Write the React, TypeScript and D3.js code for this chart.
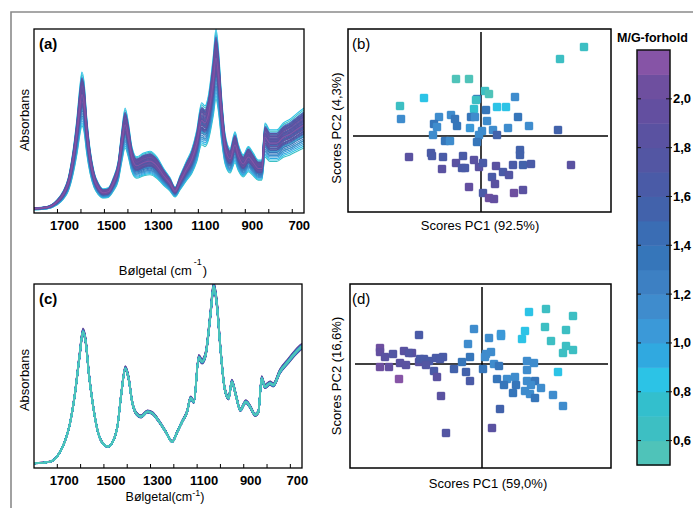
import React from "react";
import * as d3 from "d3";

const W = 693;
const H = 508;
const FONT = "'Liberation Sans', Arial, Helvetica, sans-serif";

// mean spectrum, panel (a) (raw spectra)
const waveA = [1800, 1746, 1703, 1675, 1654, 1633, 1616, 1604, 1596, 1587, 1576, 1561, 1544, 1526, 1505, 1484, 1462, 1441, 1426, 1412, 1398, 1384, 1363, 1334, 1306, 1277, 1249, 1221, 1199, 1178, 1150, 1128, 1107, 1086, 1072, 1058, 1036, 1025, 1015, 1001, 986, 965, 944, 930, 909, 887, 866, 845, 830, 816, 795, 766, 738, 710, 681, 650];
const absA = [0.025, 0.031, 0.062, 0.107, 0.17, 0.306, 0.469, 0.614, 0.678, 0.632, 0.469, 0.306, 0.197, 0.143, 0.116, 0.121, 0.17, 0.252, 0.397, 0.505, 0.433, 0.324, 0.27, 0.288, 0.297, 0.27, 0.216, 0.17, 0.125, 0.179, 0.252, 0.306, 0.397, 0.53, 0.515, 0.56, 0.759, 0.886, 0.795, 0.56, 0.379, 0.31, 0.39, 0.33, 0.28, 0.32, 0.288, 0.255, 0.255, 0.433, 0.4, 0.4, 0.433, 0.451, 0.478, 0.505];

// mean spectrum, panel (c) (normalised spectra)
const waveC = [1800, 1732, 1696, 1668, 1647, 1625, 1604, 1590, 1578, 1564, 1547, 1526, 1505, 1483, 1462, 1441, 1426, 1408, 1394, 1379, 1362, 1341, 1313, 1292, 1263, 1235, 1207, 1185, 1164, 1143, 1128, 1114, 1093, 1079, 1064, 1043, 1029, 1015, 1000, 982, 965, 951, 934, 915, 891, 873, 851, 837, 823, 809, 787, 773, 745, 710, 681, 660, 650];
const absC = [0.025, 0.034, 0.071, 0.143, 0.234, 0.397, 0.614, 0.741, 0.686, 0.505, 0.342, 0.197, 0.134, 0.116, 0.143, 0.234, 0.397, 0.541, 0.487, 0.36, 0.297, 0.279, 0.306, 0.297, 0.252, 0.197, 0.143, 0.197, 0.252, 0.306, 0.38, 0.36, 0.6, 0.578, 0.614, 0.832, 0.986, 0.886, 0.65, 0.433, 0.379, 0.469, 0.397, 0.315, 0.36, 0.333, 0.288, 0.306, 0.487, 0.442, 0.46, 0.451, 0.523, 0.578, 0.623, 0.65, 0.66];

// samples: M/G ratio and intensity factor of each spectrum
const sampleMG = [2.12, 2.05, 2.02, 1.96, 1.92, 1.88, 1.86, 1.83, 1.8, 1.78, 1.75, 1.72, 1.7, 1.68, 1.65, 1.63, 1.6, 1.58, 1.55, 1.52, 1.5, 1.47, 1.44, 1.42, 1.38, 1.35, 1.32, 1.3, 1.26, 1.23, 1.2, 1.16, 1.12, 1.08, 1.05, 1.02, 0.96, 0.92, 0.88, 0.85, 0.82, 0.78, 0.74, 0.7, 0.66, 0.62, 0.58, 0.54];
const scaleA = [0.95, 1.02, 0.9, 1.05, 0.98, 0.88, 1.08, 0.93, 1.0, 0.86, 1.04, 0.96, 0.91, 1.06, 0.99, 0.87, 1.03, 0.94, 0.9, 1.07, 0.97, 0.85, 1.01, 0.92, 0.82, 0.96, 1.04, 0.88, 0.8, 0.95, 0.78, 1.0, 0.84, 0.92, 0.76, 1.09, 0.88, 0.74, 1.13, 0.98, 0.72, 1.06, 0.9, 0.7, 1.11, 0.83, 0.94, 0.78];
const scaleC = [1.02, 0.99, 1.025, 0.985, 1.015, 0.98, 1.01, 1.02, 0.99, 1.0, 1.015, 0.985, 1.005, 1.0, 0.99, 1.01, 1.0, 0.995, 1.005, 1.0, 0.99, 1.01, 1.0, 0.995, 1.005, 1.0, 0.99, 1.0, 1.005, 0.995, 1.0, 1.0, 0.995, 1.005, 1.0, 0.995, 1.0, 1.005, 1.0, 0.995, 1.0, 1.0, 1.0, 1.005, 0.995, 1.0, 1.0, 1.0];

// PCA scores (b)
const pcB1 = [1.03, 0.79, -0.25, -0.12, 0.04, 0.08, -0.57, -0.81, -0.04, -0.05, -0.07, 0.05, 0.16, 0.25, 0.34, -0.8, -0.42, -0.3, -0.26, -0.1, -0.06, 0.06, 0.37, -0.47, -0.44, -0.24, -0.11, 0.01, 0.12, 0.27, 0.48, 0.77, -0.48, -0.36, -0.31, -0.02, -0.04, 0.16, -0.72, -0.5, -0.49, -0.38, -0.18, -0.25, -0.39, -0.19, -0.16, -0.07, -0.02, 0.02, 0.15, 0.22, 0.28, 0.11, 0.14, -0.12, 0.02, 0.08, 0.13, 0.33, 0.42, 0.32, 0.42, 0.5, 0.39, 0.39, 0.9];
const pcB2 = [0.89, 0.77, 0.57, 0.57, 0.45, 0.42, 0.38, 0.3, 0.37, 0.36, 0.27, 0.26, 0.29, 0.29, 0.39, 0.17, 0.19, 0.21, 0.17, 0.19, 0.19, 0.15, 0.19, 0.12, 0.09, 0.1, 0.08, 0.05, 0.06, 0.08, 0.1, 0.06, 0.01, -0.05, -0.05, 0.01, -0.06, 0.01, -0.21, -0.17, -0.2, -0.21, -0.2, -0.27, -0.33, -0.32, -0.32, -0.24, -0.31, -0.27, -0.3, -0.36, -0.39, -0.41, -0.48, -0.51, -0.57, -0.62, -0.63, -0.57, -0.54, -0.29, -0.29, -0.28, -0.14, -0.19, -0.29];
const mgB = [0.65, 0.6, 0.55, 0.55, 0.6, 0.55, 0.85, 0.6, 1.3, 0.7, 0.75, 1.3, 0.85, 0.85, 1.1, 1.2, 1.2, 1.2, 1.3, 1.4, 1.2, 1.2, 1.4, 1.3, 1.2, 1.3, 1.0, 1.2, 1.2, 1.1, 1.1, 1.5, 1.2, 1.4, 1.2, 1.2, 1.3, 1.5, 1.85, 1.6, 1.6, 1.6, 1.65, 1.8, 1.9, 1.6, 1.6, 1.8, 1.9, 1.65, 1.8, 1.65, 1.75, 1.65, 1.85, 1.95, 1.7, 2.05, 1.95, 2.0, 1.85, 1.6, 1.55, 1.6, 1.55, 1.55, 1.8];

// PCA scores (d)
const pcD1 = [0.47, 0.64, 0.91, 0.63, 0.84, 0.43, 0.69, 0.4, 0.84, 0.91, 0.81, 0.76, -0.08, 0.07, 0.19, 0.19, -0.14, -0.12, 0.09, 0.04, 0.03, -0.2, 0.12, 0.17, 0.01, -0.28, -0.16, -0.12, 0.45, 0.52, 0.45, 0.15, 0.25, 0.33, 0.22, 0.34, 0.45, 0.53, 0.49, 0.43, 0.31, 0.48, 0.53, 0.59, 0.71, 0.81, 0.18, 0.1, -0.63, -1.02, -1.02, -0.97, -0.89, -0.78, -0.7, -0.73, -0.82, -0.76, -1.02, -0.93, -0.63, -0.62, -0.58, -0.53, -0.56, -0.46, -0.39, -0.42, -0.48, -0.45, -0.83, -0.41, -0.36];
const pcD2 = [0.52, 0.55, 0.48, 0.37, 0.34, 0.33, 0.23, 0.25, 0.18, 0.14, 0.11, -0.08, 0.35, 0.26, 0.3, 0.28, 0.2, 0.07, 0.12, 0.1, 0.07, 0.02, 0.0, -0.02, -0.05, -0.05, -0.08, -0.17, 0.03, 0.01, -0.06, -0.15, -0.15, -0.13, -0.21, -0.21, -0.17, -0.17, -0.21, -0.27, -0.29, -0.3, -0.34, -0.24, -0.31, -0.42, -0.45, -0.64, 0.29, 0.16, 0.12, 0.07, 0.1, 0.13, 0.11, 0.11, 0.01, -0.01, -0.03, -0.03, 0.02, 0.05, 0.05, 0.03, -0.01, 0.06, 0.07, 0.05, -0.07, -0.13, -0.15, -0.32, -0.69];
const mgD = [0.8, 0.6, 0.6, 0.7, 0.7, 0.85, 0.7, 0.85, 0.6, 0.6, 0.65, 0.85, 1.1, 1.2, 1.0, 1.05, 1.2, 1.3, 1.2, 1.2, 1.2, 1.4, 1.2, 1.3, 1.4, 1.5, 1.5, 1.6, 1.2, 1.2, 1.2, 1.3, 1.2, 1.1, 1.3, 1.3, 1.1, 1.35, 1.2, 1.2, 1.35, 1.2, 1.35, 1.1, 1.1, 1.2, 1.5, 1.8, 1.65, 2.05, 1.95, 1.9, 1.75, 1.8, 1.8, 1.75, 1.8, 1.85, 2.05, 1.95, 1.8, 1.7, 1.7, 1.7, 1.75, 1.65, 1.6, 1.6, 1.7, 1.85, 2.1, 1.85, 1.75];

// colour bar
const mgColors = ["#4fc3b9", "#3dbfc3", "#33bfcd", "#2cc3e6", "#30a9e0", "#3b99d8", "#3f8ccd", "#3d80c3", "#3676ba", "#3a6db4", "#4262ab", "#4a5ba7", "#5356a3", "#5a52a1", "#634fa0", "#6e4f9f", "#8654a6"];
const mgDomain = [0.5, 2.2];
const cbTicks = [0.6, 0.8, 1.0, 1.2, 1.4, 1.6, 1.8, 2.0];
const waveTicks = [1700, 1600, 1500, 1400, 1300, 1200, 1100, 1000, 900, 800, 700];
const waveLabels = [1700, 1500, 1300, 1100, 900, 700];

const mgColor = d3.scaleQuantize<string>().domain(mgDomain as [number, number]).range(mgColors);

type Box = { x0: number; x1: number; y0: number; y1: number };

function SpectraPanel({ box, wave, abs, scales, lw, id, cyanOnTop }: { box: Box; wave: number[]; abs: number[]; scales: number[]; lw: number; id: string; cyanOnTop: boolean }) {
  const x = d3.scaleLinear().domain([1800, 650]).range([box.x0, box.x1]);
  const y = d3.scaleLinear().domain([0, 1]).range([box.y1, box.y0]);
  const order = d3.range(sampleMG.length).sort((a, b) => (cyanOnTop ? sampleMG[b] - sampleMG[a] : sampleMG[a] - sampleMG[b]));
  const line = d3.line<[number, number]>().x(d => d[0]).y(d => d[1]).curve(d3.curveMonotoneX);
  return (
    <g>
      <clipPath id={id}>
        <rect x={box.x0} y={box.y0} width={box.x1 - box.x0} height={box.y1 - box.y0} />
      </clipPath>
      <g clipPath={`url(#${id})`} fill="none">
        {order.map(i => (
          <path
            key={i}
            d={line(wave.map((w, k) => [x(w), y(abs[k] * scales[i])]))!}
            stroke={mgColor(sampleMG[i])}
            strokeWidth={lw}
          />
        ))}
      </g>
      <rect x={box.x0} y={box.y0} width={box.x1 - box.x0} height={box.y1 - box.y0} fill="none" stroke="#000" strokeWidth={1.3} />
      {waveTicks.map(t => (
        <line key={t} x1={x(t)} x2={x(t)} y1={box.y1} y2={box.y1 - 4} stroke="#000" strokeWidth={1} />
      ))}
      {waveLabels.map(t => (
        <text key={t} x={x(t) + 7} y={box.y1 + 17} textAnchor="middle" fontSize={13} fontWeight="bold" fontFamily={FONT}>
          {t}
        </text>
      ))}
    </g>
  );
}

function ScorePanel({ box, xDom, yDom, p1, p2, mg }: { box: Box; xDom: [number, number]; yDom: [number, number]; p1: number[]; p2: number[]; mg: number[] }) {
  const x = d3.scaleLinear().domain(xDom).range([box.x0, box.x1]);
  const y = d3.scaleLinear().domain(yDom).range([box.y1, box.y0]);
  const s = 8;
  return (
    <g>
      <rect x={box.x0} y={box.y0} width={box.x1 - box.x0} height={box.y1 - box.y0} fill="#fff" stroke="#000" strokeWidth={1.5} />
      <line x1={x(0)} x2={x(0)} y1={box.y0 + 3} y2={box.y1} stroke="#000" strokeWidth={1.5} />
      <line x1={box.x0 + 5} x2={box.x1 - 3} y1={y(0)} y2={y(0)} stroke="#000" strokeWidth={1.5} />
      {p1.map((v, i) => (
        <rect
          key={i}
          x={x(v) - s / 2}
          y={y(p2[i]) - s / 2}
          width={s}
          height={s}
          rx={1}
          fill={mgColor(mg[i])}
          stroke={mgColor(mg[i])}
          strokeOpacity={0.5}
          strokeWidth={0.8}
        />
      ))}
    </g>
  );
}

function ColorBar() {
  const bx0 = 637;
  const bx1 = 670;
  const y = d3.scaleLinear().domain(mgDomain).range([465, 50]);
  const step = (mgDomain[1] - mgDomain[0]) / mgColors.length;
  const fmt = (v: number) => d3.format(".1f")(v).replace(".", ",");
  return (
    <g>
      <text x={617} y={42} fontSize={12.5} fontWeight="bold" fontFamily={FONT}>M/G-forhold</text>
      {mgColors.map((c, i) => {
        const lo = mgDomain[0] + i * step;
        return <rect key={i} x={bx0} y={y(lo + step)} width={bx1 - bx0} height={y(lo) - y(lo + step) + 0.5} fill={c} />;
      })}
      <rect x={bx0} y={y(mgDomain[1])} width={bx1 - bx0} height={y(mgDomain[0]) - y(mgDomain[1])} fill="none" stroke="#111" strokeWidth={1.5} />
      {cbTicks.map(t => (
        <g key={t}>
          <line x1={bx0} x2={bx0 + 4} y1={y(t)} y2={y(t)} stroke="#111" strokeWidth={1} />
          <line x1={bx1 - 4} x2={bx1 + 2} y1={y(t)} y2={y(t)} stroke="#111" strokeWidth={1} />
          <text x={bx1 + 3} y={y(t) + 4.5} fontSize={13} fontWeight="bold" fontFamily={FONT}>{fmt(t)}</text>
        </g>
      ))}
    </g>
  );
}

export default function App() {
  const boxA = { x0: 34, x1: 304, y0: 29, y1: 213 };
  const boxC = { x0: 34, x1: 302, y0: 284, y1: 468 };
  const boxB = { x0: 348, x1: 611, y0: 29, y1: 212 };
  const boxD = { x0: 350, x1: 611, y0: 284, y1: 468 };
  return (
    <svg width={W} height={H} style={{ position: "absolute", left: 0, top: 0, background: "#fff" }} fontFamily={FONT}>
      <rect x={0} y={0} width={W} height={H} fill="#fff" />
      <path d={`M11,${H} L11,12 L${W},12`} fill="none" stroke="#8a8a8a" strokeWidth={1.6} />

      <SpectraPanel box={boxA} wave={waveA} abs={absA} scales={scaleA} lw={1.1} id="clipA" cyanOnTop={false} />
      <SpectraPanel box={boxC} wave={waveC} abs={absC} scales={scaleC} lw={1.6} id="clipC" cyanOnTop={true} />
      <ScorePanel box={boxB} xDom={[-1.33, 1.3]} yDom={[-0.76, 1.07]} p1={pcB1} p2={pcB2} mg={mgB} />
      <ScorePanel box={boxD} xDom={[-1.32, 1.29]} yDom={[-1.04, 0.8]} p1={pcD1} p2={pcD2} mg={mgD} />
      <ColorBar />

      <text x={39} y={49} fontSize={15} fontWeight="bold">(a)</text>
      <text x={39} y={304} fontSize={15} fontWeight="bold">(c)</text>
      <text x={352} y={49} fontSize={15}>(b)</text>
      <text x={352} y={304} fontSize={15}>(d)</text>

      <text transform="translate(29,120) rotate(-90)" textAnchor="middle" fontSize={13}>Absorbans</text>
      <text transform="translate(29,380) rotate(-90)" textAnchor="middle" fontSize={13}>Absorbans</text>

      <text x={163} y={275} textAnchor="middle" fontSize={13}>
        <tspan>Bølgetal (cm</tspan>
        <tspan dx={2} dy={-10} fontSize={9}>-1</tspan>
        <tspan dx={1} dy={10}>)</tspan>
      </text>
      <text x={165} y={501} textAnchor="middle" fontSize={12.5}>
        <tspan>Bølgetal(cm</tspan>
        <tspan dy={-5} fontSize={9}>-1</tspan>
        <tspan dy={5}>)</tspan>
      </text>

      <text x={480} y={230} textAnchor="middle" fontSize={13}>Scores PC1 (92.5%)</text>
      <text x={488} y={488} textAnchor="middle" fontSize={13}>Scores PC1 (59,0%)</text>
      <text transform="translate(341,128) rotate(-90)" textAnchor="middle" fontSize={13}>Scores PC2 (4,3%)</text>
      <text transform="translate(341,376) rotate(-90)" textAnchor="middle" fontSize={13}>Scores PC2 (16,6%)</text>
    </svg>
  );
}
